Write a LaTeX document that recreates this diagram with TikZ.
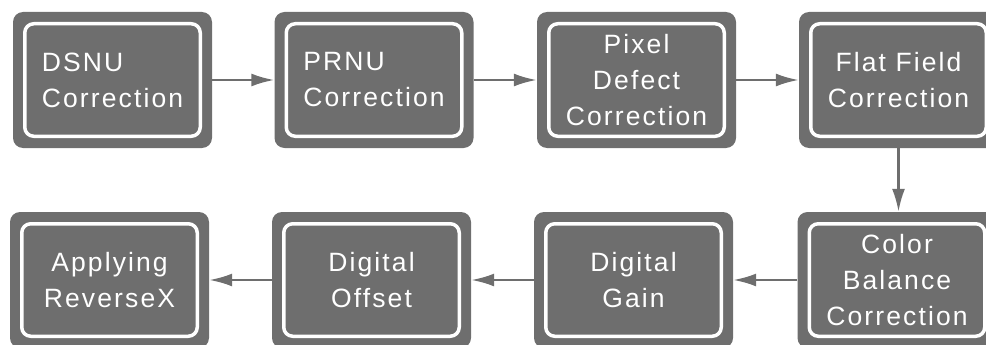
\documentclass[tikz,border=0pt]{standalone}
\usepackage{fontspec}
\setmainfont[LetterSpace=8]{Liberation Sans}
\usetikzlibrary{arrows.meta}
\definecolor{boxgray}{HTML}{6E6E6E}

\begin{document}
\begin{tikzpicture}[x=1pt,y=-1pt,
	stage/.style={rectangle,fill=boxgray,rounded corners=10pt,
	minimum width=199pt,minimum height=136pt,inner sep=0pt,
	text=white,font=\fontsize{26.5}{36}\selectfont,
	path picture={\draw[white,line width=3.5pt,rounded corners=9pt]
	([shift={(11.75pt,-11.75pt)}]path picture bounding box.north west) rectangle
	([shift={(-11.75pt,11.75pt)}]path picture bounding box.south east);}},
	flow/.style={draw=boxgray,line width=2.5pt,-{Latex[length=23pt,width=13pt]}}]
\useasboundingbox (0,0) rectangle (986,345);
\clip (0,0) rectangle (986,345);
% first row
\node[stage,align=left] (dsnu) at (112.5,80) {DSNU\\Correction};
\node[stage,align=left] (prnu) at (374,80) {PRNU\\Correction};
\node[stage,align=center] (defect) at (636.5,80) {Pixel\\Defect\\Correction};
\node[stage,align=center] (flat) at (898.5,80) {Flat Field\\Correction};
% second row
\node[stage,align=center] (balance) at (897,280) {Color\\Balance\\Correction};
\node[stage,align=center] (gain) at (633.5,280) {Digital\\Gain};
\node[stage,align=center] (offset) at (371.5,280) {Digital\\Offset};
\node[stage,align=center] (reverse) at (109.5,280) {Applying\\ReverseX};
\draw[flow] (dsnu) -- (prnu);
\draw[flow] (prnu) -- (defect);
\draw[flow] (defect) -- (flat);
\draw[flow] (flat.south) -- (flat.south |- balance.north);
\draw[flow] (balance) -- (gain);
\draw[flow] (gain) -- (offset);
\draw[flow] (offset) -- (reverse);
\end{tikzpicture}
\end{document}
